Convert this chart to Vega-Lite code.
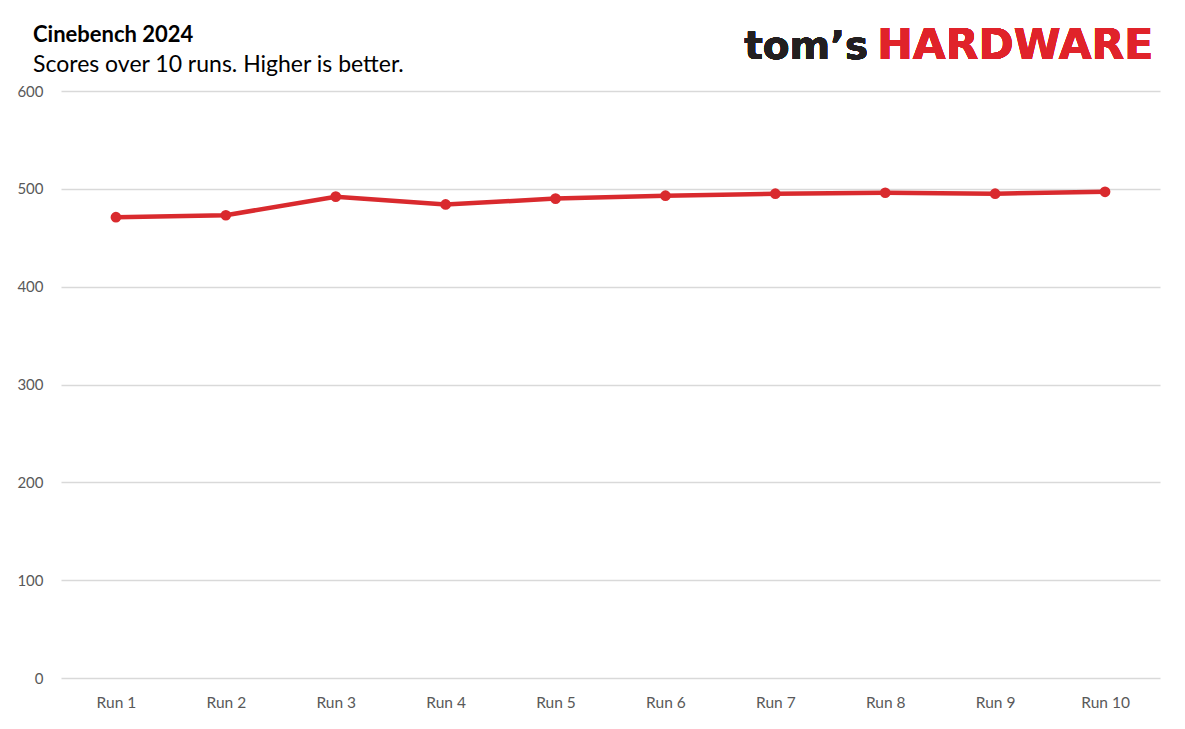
{
  "$schema": "https://vega.github.io/schema/vega-lite/v6.json",
  "autosize": "none",
  "width": 1099,
  "height": 587,
  "padding": {"left": 61, "top": 91, "right": 25, "bottom": 51},
  "background": "white",
  "title": {
    "text": "Cinebench 2024",
    "subtitle": "Scores over 10 runs. Higher is better.",
    "anchor": "start",
    "frame": "group",
    "dx": -28,
    "dy": 67,
    "offset": 14,
    "font": "Lato",
    "fontSize": 22,
    "fontWeight": "bold",
    "color": "#000000",
    "subtitleFont": "Lato",
    "subtitleFontSize": 23,
    "subtitleColor": "#000000",
    "subtitlePadding": 7
  },
  "data": {
    "values": [
      {"run": "Run 1", "score": 471},
      {"run": "Run 2", "score": 473},
      {"run": "Run 3", "score": 492},
      {"run": "Run 4", "score": 484},
      {"run": "Run 5", "score": 490},
      {"run": "Run 6", "score": 493},
      {"run": "Run 7", "score": 495},
      {"run": "Run 8", "score": 496},
      {"run": "Run 9", "score": 495},
      {"run": "Run 10", "score": 497}
    ]
  },
  "encoding": {
    "x": {
      "field": "run",
      "type": "ordinal",
      "sort": null,
      "title": null,
      "scale": {"type": "point", "padding": 0.5},
      "axis": {
        "labelAngle": 0,
        "ticks": false,
        "domain": false,
        "grid": false,
        "labelPadding": 17,
        "labelFont": "Lato",
        "labelFontSize": 15.5,
        "labelColor": "#595959"
      }
    },
    "y": {
      "field": "score",
      "type": "quantitative",
      "title": null,
      "scale": {"domain": [0, 600], "nice": false},
      "axis": {
        "values": [0, 100, 200, 300, 400, 500, 600],
        "ticks": false,
        "domain": false,
        "gridColor": "#d9d9d9",
        "gridWidth": 1.5,
        "labelPadding": 18,
        "labelFont": "Lato",
        "labelFontSize": 15,
        "labelColor": "#595959"
      }
    }
  },
  "layer": [
    {
      "mark": {
        "type": "line",
        "color": "#d92a2e",
        "strokeWidth": 4.5,
        "point": {"filled": true, "size": 115, "color": "#d92a2e"}
      }
    },
    {
      "mark": {
        "type": "text",
        "text": "tom’s",
        "font": "DejaVu Sans",
        "fontWeight": "bold",
        "fontSize": 39,
        "color": "#231f20",
        "align": "right",
        "baseline": "alphabetic",
        "dx": -17
      },
      "encoding": {
        "x": {"datum": "Run 8"},
        "y": {"datum": 633}
      }
    },
    {
      "mark": {
        "type": "text",
        "text": "HARDWARE",
        "font": "DejaVu Sans",
        "fontWeight": "bold",
        "fontSize": 42.5,
        "color": "#e0232a",
        "align": "left",
        "baseline": "alphabetic",
        "dx": -8
      },
      "encoding": {
        "x": {"datum": "Run 8"},
        "y": {"datum": 633}
      }
    }
  ],
  "config": {
    "view": {"stroke": null}
  }
}
